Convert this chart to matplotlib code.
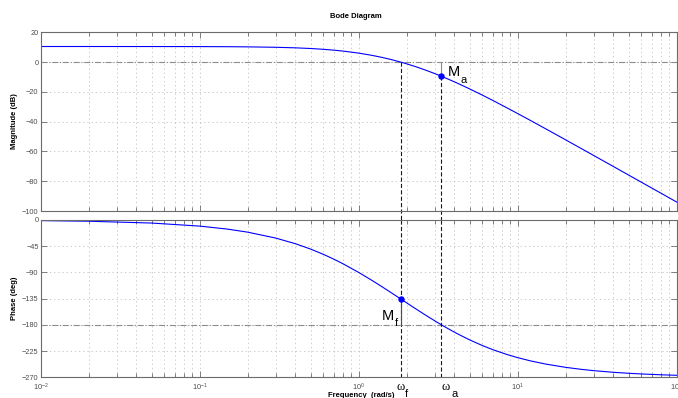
import numpy as np
import matplotlib
matplotlib.use("Agg")
import matplotlib.pyplot as plt
import matplotlib.ticker as mticker

plt.rcParams["font.family"] = ["Liberation Sans", "DejaVu Sans"]
plt.rcParams["mathtext.fontset"] = "custom"
plt.rcParams["mathtext.rm"] = "Liberation Sans"
plt.rcParams["mathtext.it"] = "Liberation Sans:italic"
plt.rcParams["mathtext.bf"] = "Liberation Sans:bold"
plt.rcParams["lines.scale_dashes"] = False

# Frequency response samples, G(s) = 20 / ((s+1)(s+2)(s+3))
freq = [0.01, 0.02, 0.05, 0.1, 0.15, 0.2, 0.3, 0.4, 0.5, 0.6, 0.7, 0.8, 1.0,
        1.2, 1.4, 1.6, 1.838, 2.0, 2.3, 2.6, 3.0, 3.317, 3.7, 4.2, 5.0, 6.0,
        7.0, 8.5, 10, 12, 15, 20, 25, 30, 40, 50, 60, 80, 100]
mag_db = [10.46, 10.46, 10.44, 10.40, 10.33, 10.22, 9.94, 9.57, 9.11, 8.58, 7.99, 7.37, 6.02,
          4.60, 3.16, 1.71, 0.00, -1.14, -3.20, -5.17, -7.67, -9.54, -11.69, -14.29, -18.07, -22.21,
          -25.85, -30.55, -34.57, -39.14, -44.81, -52.19, -57.95, -62.67, -70.14, -75.94, -80.69, -88.17, -93.99]
phase_deg = [-1.05, -2.10, -5.25, -10.48, -15.68, -20.83, -30.94, -40.71, -50.06, -58.97, -67.42, -75.39, -90.00,
             -102.96, -114.47, -124.73, -135.53, -142.13, -152.97, -162.31, -172.87, -180.01, -187.45, -195.61, -205.92, -215.54,
             -222.73, -230.61, -236.28, -241.74, -247.28, -252.90, -256.29, -258.57, -261.42, -263.13, -264.27, -265.70, -266.56]

# Gain crossover (0 dB) and phase crossover (-180 deg) points
w_f, mag_f, phase_f = 1.838, 0.0, -135.53
w_a, mag_a, phase_a = 3.317, -9.54, -180.0

mag_ticks = [20, 0, -20, -40, -60, -80, -100]
phase_ticks = [0, -45, -90, -135, -180, -225, -270]

W, H = 678, 398
fig = plt.figure(figsize=(W / 100, H / 100), dpi=100)
left, right = 40.7 / W, 676.7 / W
ax1 = fig.add_axes([left, 1 - 211 / H, right - left, (211 - 32.3) / H])
ax2 = fig.add_axes([left, 1 - 377.3 / H, right - left, (377.3 - 220) / H])

axis_col = "0.42"
grid_kw = dict(color="0.72", lw=0.5, ls=(0, (1, 2)))
dashdot = (0, (4.3, 1.3, 0.8, 1.3))
dashed = (0, (3.0, 1.6))

for ax, ticks in ((ax1, mag_ticks), (ax2, phase_ticks)):
    ax.set_xscale("log")
    ax.set_xlim(0.01, 100)
    ax.set_ylim(min(ticks), max(ticks))
    ax.set_yticks(ticks)
    ax.xaxis.set_major_locator(mticker.LogLocator(base=10, numticks=10))
    ax.xaxis.set_minor_locator(mticker.LogLocator(base=10, subs=np.arange(2, 10), numticks=10))
    ax.xaxis.set_minor_formatter(mticker.NullFormatter())
    ax.grid(True, which="major", axis="both", **grid_kw)
    ax.grid(True, which="minor", axis="x", **grid_kw)
    ax.tick_params(which="both", direction="in", top=True, right=True,
                   color=axis_col, labelcolor="0.3", labelsize=5.3, width=0.6)
    ax.tick_params(which="major", length=4.2)
    ax.tick_params(which="minor", length=3.2)
    ax.tick_params(axis="y", pad=1.5)
    ax.tick_params(axis="x", pad=3.5)
    for sp in ax.spines.values():
        sp.set_color(axis_col)
        sp.set_linewidth(0.8)
    ax.set_axisbelow(True)

ax1.tick_params(labelbottom=False)

# Stability margin reference lines
ax1.axhline(0, color="0.55", lw=0.8, ls=dashdot)
ax2.axhline(-180, color="0.55", lw=0.8, ls=dashdot)

# Response curves
ax1.plot(freq, mag_db, color="blue", lw=0.8)
ax2.plot(freq, phase_deg, color="blue", lw=0.8)

# Crossover markers
ax1.plot([w_a, w_a], [0, mag_a], color="0.55", lw=0.8)
ax1.plot([w_f, w_f], [0, -106], color="0.1", lw=0.8, ls=dashed, clip_on=False)
ax1.plot([w_a, w_a], [mag_a, -106], color="0.1", lw=0.8, ls=dashed, clip_on=False)
ax2.plot([w_f, w_f], [0, -270], color="0.1", lw=0.8, ls=dashed)
ax2.plot([w_a, w_a], [0, -270], color="0.1", lw=0.8, ls=dashed)
ax2.plot([w_f, w_f], [phase_f, -180], color="0.3", lw=0.8)
ax1.plot([w_a], [mag_a], "o", color="blue", ms=3.6)
ax2.plot([w_f], [phase_f], "o", color="blue", ms=3.6)

def sub_label(ax, xy, main, sub, main_off, sub_off, main_kw, sub_kw, ha="left"):
    ax.annotate(main, xy=xy, xytext=main_off, textcoords="offset points",
                ha=ha, va="baseline", annotation_clip=False, **main_kw)
    ax.annotate(sub, xy=xy, xytext=sub_off, textcoords="offset points",
                ha="left", va="baseline", annotation_clip=False, **sub_kw)

m_kw = dict(fontsize=10.5, color="black")
s_kw = dict(fontsize=8, color="black")
w_kw = dict(fontsize=9, color="black", family=["Liberation Serif", "DejaVu Serif"])

sub_label(ax1, (w_a, mag_a), "M", "a", (4.7, 0.4), (13.7, -5.0), m_kw, s_kw)
sub_label(ax2, (w_f, phase_f), "M", "f", (-13.5, -15.0), (-4.6, -19.3), m_kw, s_kw)
sub_label(ax2, (w_f, -270), "\u03c9", "f", (0, -9.3), (3.3, -14.0), w_kw, s_kw, ha="center")
sub_label(ax2, (w_a, -270), "\u03c9", "a", (-0.2, -9.3), (7.0, -14.4), w_kw, s_kw)

# Titles and axis labels
fig.text(355.7 / W, 1 - 16 / H, "Bode Diagram", ha="center", va="center",
         fontsize=5.5, fontweight="bold")
fig.text(14.5 / W, 1 - 121 / H, "Magnitude (dB)", rotation=90, ha="center", va="center",
         fontsize=5.5, fontweight="bold")
fig.text(14.5 / W, 1 - 298.5 / H, "Phase (deg)", rotation=90, ha="center", va="center",
         fontsize=5.5, fontweight="bold")
fig.text(360.8 / W, 1 - 392 / H, "Frequency  (rad/s)", ha="center", va="top",
         fontsize=5.5, fontweight="bold")

fig.savefig("out.png", dpi=100, facecolor="white")
